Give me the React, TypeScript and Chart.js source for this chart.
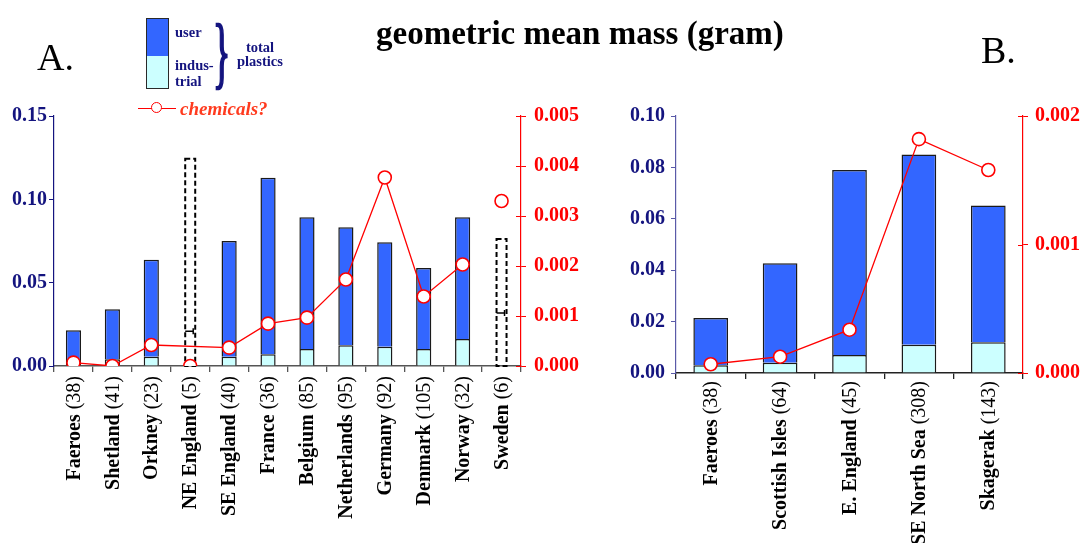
import React, { useEffect, useRef } from 'react';
import { Chart, registerables } from 'chart.js';
Chart.register(...registerables);

// ---------- Data: panel A ----------
const namesA = ['Faeroes', 'Shetland', 'Orkney', 'NE England', 'SE England', 'France', 'Belgium', 'Netherlands', 'Germany', 'Denmark', 'Norway', 'Sweden'];
const countsA = [38, 41, 23, 5, 40, 36, 85, 95, 92, 105, 32, 6];
const industrialA = [0.003, 0.004, 0.0056, null, 0.0056, 0.007, 0.0102, 0.0124, 0.0116, 0.0102, 0.0162, null];
const userA = [0.0184, 0.030, 0.0582, null, 0.0694, 0.106, 0.079, 0.0708, 0.0626, 0.0486, 0.073, null];
const uncertainTotalA = [null, null, null, 0.1244, null, null, null, null, null, null, null, 0.0762];
const uncertainIndustrialA = [null, null, null, 0.0208, null, null, null, null, null, null, null, 0.0318];
const chemA = [0.000067, 0, 0.00042, null, 0.000367, 0.000847, 0.000967, 0.00173, 0.00377, 0.00139, 0.00203, null];
const chemLoneA = [null, null, null, 0, null, null, null, null, null, null, null, 0.0033];
const ticksLeftA = { min: 0, max: 0.15, step: 0.05 };
const ticksRightA = { min: 0, max: 0.005, step: 0.001 };

// ---------- Data: panel B ----------
const namesB = ['Faeroes', 'Scottish Isles', 'E. England', 'SE North Sea', 'Skagerak'];
const countsB = [38, 64, 45, 308, 143];
const industrialB = [0.003, 0.004, 0.007, 0.011, 0.012];
const userB = [0.0184, 0.0387, 0.072, 0.074, 0.0532];
const chemB = [0.000068, 0.000127, 0.000337, 0.00182, 0.00158];
const ticksLeftB = { min: 0, max: 0.10, step: 0.02 };
const ticksRightB = { min: 0, max: 0.002, step: 0.001 };

const SERIF = '"Liberation Serif", "Times New Roman", serif';
const NAVY = '#14147f';
const RED = '#ff0000';
const BLUE = '#3366ff';
const CYAN = '#ccffff';
const W = 1080;
const H = 543;

function xLabelPlugin(names: string[], counts: number[], gap: number, size: number) {
  return {
    id: 'xlabels',
    afterDraw(chart: any) {
      const ctx = chart.ctx;
      const xs = chart.scales.x;
      const y0 = chart.chartArea.bottom + gap;
      names.forEach((n, i) => {
        const x = xs.getPixelForValue(i);
        ctx.save();
        ctx.translate(x, y0);
        ctx.rotate(-Math.PI / 2);
        ctx.textAlign = 'right';
        ctx.textBaseline = 'middle';
        ctx.fillStyle = '#000';
        ctx.font = `${size}px ${SERIF}`;
        const tail = `(${counts[i]})`;
        ctx.fillText(tail, 0, 1);
        const w = ctx.measureText(tail).width;
        ctx.font = `bold ${size}px ${SERIF}`;
        ctx.fillText(n + ' ', -w, 1);
        ctx.restore();
      });
    },
  };
}

function inwardTickPlugin() {
  return {
    id: 'inwardTicks',
    afterDraw(chart: any) {
      const ctx = chart.ctx;
      const s = chart.scales.y1;
      const r = chart.chartArea.right;
      ctx.save();
      ctx.strokeStyle = RED;
      ctx.lineWidth = 1;
      s.ticks.forEach((_t: any, i: number) => {
        const y = Math.round(s.getPixelForTick(i)) + 0.5;
        ctx.beginPath();
        ctx.moveTo(r - 5, y);
        ctx.lineTo(r, y);
        ctx.stroke();
      });
      ctx.restore();
    },
  };
}

function dashedBarPlugin(totals: (number | null)[], inds: (number | null)[], halfW: number) {
  return {
    id: 'dashedBars',
    beforeDatasetsDraw(chart: any) {
      const ctx = chart.ctx;
      const xs = chart.scales.x;
      const ys = chart.scales.y;
      ctx.save();
      totals.forEach((t, i) => {
        if (t == null) return;
        const x = xs.getPixelForValue(i);
        const yT = ys.getPixelForValue(t);
        const yB = ys.getPixelForValue(0);
        ctx.strokeStyle = '#000';
        ctx.lineWidth = 2;
        ctx.setLineDash([5, 3]);
        ctx.strokeRect(x - halfW, yT, halfW * 2, yB - yT);
        const v = inds[i];
        if (v != null) {
          const yI = ys.getPixelForValue(v);
          ctx.setLineDash([]);
          ctx.lineWidth = 1.5;
          ctx.beginPath();
          ctx.moveTo(x - halfW, yI);
          ctx.lineTo(x + halfW - 2, yI);
          ctx.moveTo(x + halfW - 2, yI - 3);
          ctx.lineTo(x + halfW - 2, yI + 3);
          ctx.stroke();
        }
      });
      ctx.restore();
    },
  };
}

function makeChart(
  canvas: HTMLCanvasElement,
  cfg: {
    names: string[]; counts: number[]; industrial: (number | null)[]; user: (number | null)[];
    chem: (number | null)[]; chemLone?: (number | null)[];
    left: { min: number; max: number; step: number }; right: { min: number; max: number; step: number };
    leftW: number; rightW: number; bottomH: number; barPct: number; leftAxisColor: string; xAxisColor: string;
    leftPad: number; rightPad: number; labelGap: number; extraPlugins: any[];
  }
) {
  const datasets: any[] = [
    {
      type: 'line', data: cfg.chem, yAxisID: 'y1', borderColor: RED, borderWidth: 1.3,
      pointRadius: 6.5, pointBorderWidth: 1.6, pointBackgroundColor: '#fff', pointBorderColor: RED,
      spanGaps: true, order: 0,
      segment: { borderDash: (c: any) => (c.p1.parsed.x - c.p0.parsed.x > 1 ? [6, 4] : undefined) },
    },
  ];
  if (cfg.chemLone) {
    datasets.push({
      type: 'line', data: cfg.chemLone, yAxisID: 'y1', showLine: false, borderColor: RED,
      pointRadius: 6.5, pointBorderWidth: 1.6, pointBackgroundColor: '#fff', pointBorderColor: RED, order: 0,
    });
  }
  datasets.push(
    {
      type: 'bar', data: cfg.industrial, yAxisID: 'y', backgroundColor: CYAN, borderColor: '#1a1a1a',
      borderWidth: 1.5, barPercentage: cfg.barPct, categoryPercentage: 1, order: 1,
    },
    {
      type: 'bar', data: cfg.user, yAxisID: 'y', backgroundColor: BLUE, borderColor: '#1a1a1a',
      borderWidth: 1.5, barPercentage: cfg.barPct, categoryPercentage: 1, order: 1,
    }
  );
  const tickFont = { family: SERIF, size: 20, weight: 'bold' as const };
  return new Chart(canvas, {
    type: 'bar',
    data: { labels: cfg.names, datasets },
    options: {
      responsive: false,
      animation: false,
      layout: { padding: { top: 116, left: 0, right: 0, bottom: 0 } },
      plugins: { legend: { display: false }, tooltip: { enabled: false }, title: { display: false } },
      scales: {
        x: {
          stacked: true, offset: true,
          grid: { offset: true, drawOnChartArea: false, drawTicks: true, tickLength: 6, color: cfg.xAxisColor, lineWidth: 1.3 },
          border: { color: cfg.xAxisColor, width: 1.5 },
          ticks: { display: false },
          afterFit: (s: any) => { s.height = cfg.bottomH; },
        },
        y: {
          stacked: true, position: 'left', min: cfg.left.min, max: cfg.left.max,
          ticks: { stepSize: cfg.left.step, callback: (v: any) => Number(v).toFixed(2), color: NAVY, font: tickFont, padding: cfg.leftPad },
          grid: { drawOnChartArea: false, tickLength: 5, color: cfg.leftAxisColor },
          border: { color: cfg.leftAxisColor, width: 1.2 },
          afterFit: (s: any) => { s.width = cfg.leftW; },
        },
        y1: {
          position: 'right', min: cfg.right.min, max: cfg.right.max,
          ticks: { stepSize: cfg.right.step, callback: (v: any) => Number(v).toFixed(3), color: RED, font: tickFont, padding: cfg.rightPad },
          grid: { drawOnChartArea: false, tickLength: 5, color: RED },
          border: { color: RED, width: 1.2 },
          afterFit: (s: any) => { s.width = cfg.rightW; },
        },
      },
    },
    plugins: [xLabelPlugin(cfg.names, cfg.counts, cfg.labelGap, 20), inwardTickPlugin(), ...cfg.extraPlugins],
  } as any);
}

function txt(left: number, baseline: number, size: number, extra: React.CSSProperties = {}): React.CSSProperties {
  return {
    position: 'absolute', left, top: baseline - 0.8375 * size, fontSize: size, lineHeight: 1,
    fontFamily: SERIF, whiteSpace: 'nowrap', margin: 0, ...extra,
  };
}

export default function App() {
  const refA = useRef<HTMLCanvasElement>(null);
  const refB = useRef<HTMLCanvasElement>(null);

  useEffect(() => {
    const a = makeChart(refA.current!, {
      names: namesA, counts: countsA, industrial: industrialA, user: userA, chem: chemA, chemLone: chemLoneA,
      left: ticksLeftA, right: ticksRightA, leftW: 54, rightW: W - 521, bottomH: H - 366, barPct: 0.39,
      leftAxisColor: NAVY, xAxisColor: '#555', leftPad: 2, rightPad: 8, labelGap: 10,
      extraPlugins: [dashedBarPlugin(uncertainTotalA, uncertainIndustrialA, 5)],
    });
    const b = makeChart(refB.current!, {
      names: namesB, counts: countsB, industrial: industrialB, user: userB, chem: chemB,
      left: ticksLeftB, right: ticksRightB, leftW: 676, rightW: W - 1023, bottomH: H - 373, barPct: 0.5,
      leftAxisColor: '#5a5aa8', xAxisColor: '#222', leftPad: 6, rightPad: 7, labelGap: 8,
      extraPlugins: [],
    });
    return () => { a.destroy(); b.destroy(); };
  }, []);

  const legendText: React.CSSProperties = { color: NAVY, fontWeight: 'bold' };

  return (
    <div style={{ position: 'fixed', left: 0, top: 0, width: W, height: H, background: '#fff', overflow: 'hidden' }}>
      <canvas ref={refA} width={W} height={H} style={{ position: 'absolute', left: 0, top: 0 }} />
      <canvas ref={refB} width={W} height={H} style={{ position: 'absolute', left: 0, top: 0 }} />

      <div style={txt(37, 70, 38, { color: '#000' })}>A.</div>
      <div style={txt(981, 63, 38, { color: '#000' })}>B.</div>
      <div style={txt(376, 45, 33, { color: '#000', fontWeight: 'bold' })}>geometric mean mass (gram)</div>

      {/* legend */}
      <div style={{ position: 'absolute', left: 146, top: 18, width: 21, height: 37, background: BLUE, border: '1.5px solid #2a2a2a' }} />
      <div style={{ position: 'absolute', left: 146, top: 56, width: 21, height: 32, background: CYAN, border: '1.5px solid #2a2a2a', borderTop: 'none' }} />
      <div style={txt(175, 37, 14.5, legendText)}>user</div>
      <div style={txt(175, 70, 14.5, legendText)}>indus-</div>
      <div style={txt(175, 86, 14.5, legendText)}>trial</div>
      <div style={{ position: 'absolute', left: 213, top: 35, fontSize: 36, lineHeight: 1, fontFamily: SERIF, fontWeight: 'normal', color: NAVY, WebkitTextStroke: '1.2px ' + NAVY, transform: 'scaleY(2.15)', transformOrigin: '50% 50%' }}>{'}'}</div>
      <div style={{ ...txt(236, 52, 14.5, legendText), width: 48, textAlign: 'center' }}>total</div>
      <div style={{ ...txt(234, 66, 14.5, legendText), width: 52, textAlign: 'center' }}>plastics</div>

      <div style={{ position: 'absolute', left: 138, top: 107.5, width: 38, height: 1.3, background: RED }} />
      <div style={{ position: 'absolute', left: 151, top: 102, width: 9, height: 9, borderRadius: '50%', background: '#fff', border: '1.5px solid ' + RED }} />
      <div style={txt(180, 115, 19, { color: '#ff3b1f', fontWeight: 'bold', fontStyle: 'italic' })}>chemicals?</div>
    </div>
  );
}
